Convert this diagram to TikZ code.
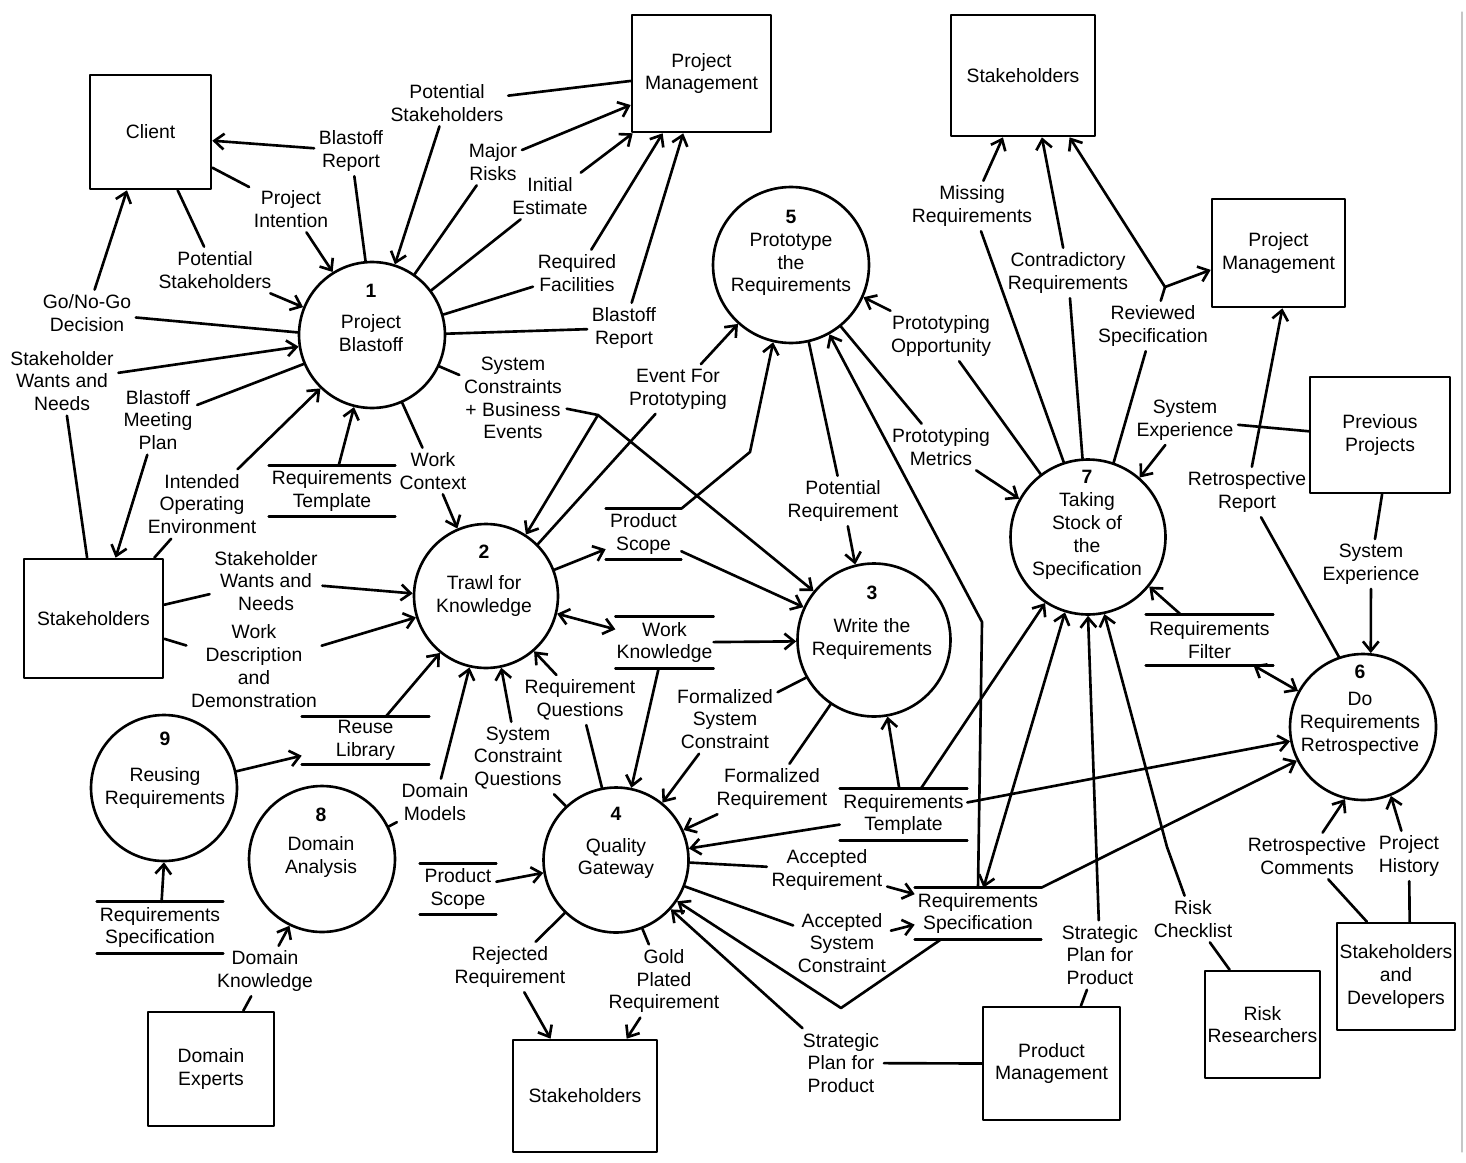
\documentclass[tikz,border=0pt]{standalone}
\usepackage{fontspec}
\setmainfont{Liberation Sans}
\usetikzlibrary{arrows.meta}
\newcommand{\lblfont}{\fontsize{11}{13}\selectfont}
\begin{document}
\begin{tikzpicture}[x=0.02cm, y=-0.02cm,
  every path/.style={line width=1.5pt, line cap=round, line join=round},
  arr/.style={-{Straight Barb[length=5.5pt,width=9pt]}},
  dbl/.style={{Straight Barb[length=5.5pt,width=9pt]}-{Straight Barb[length=5.5pt,width=9pt]}},
  proc/.style={draw, circle, inner sep=0pt},
  box/.style={draw, align=center, inner sep=0pt, font=\lblfont},
  store/.style={align=center, inner sep=0pt, font=\lblfont},
  lbl/.style={align=center, inner sep=2pt, font=\lblfont},
  ctext/.style={align=center, inner sep=0pt, font=\lblfont},
  sline/.style={draw, line width=1.5pt}]
\useasboundingbox (0,0) rectangle (1466,1162);
\draw[gray!45, line width=0.6pt] (1462,12) -- (1462,1152);

% processes
\node[proc, minimum size=2.92cm] (c1) at (372,335) {};
\node[proc, minimum size=2.88cm] (c2) at (486,596) {};
\node[proc, minimum size=3.06cm] (c3) at (874,640) {};
\node[proc, minimum size=2.9cm] (c4) at (616,860) {};
\node[proc, minimum size=3.12cm] (c5) at (791,265) {};
\node[proc, minimum size=2.92cm] (c6) at (1363,727) {};
\node[proc, minimum size=3.1cm] (c7) at (1088,537) {};
\node[proc, minimum size=2.92cm] (c8) at (322,859) {};
\node[proc, minimum size=2.92cm] (c9) at (164,788) {};

\node[ctext] (t1) at (371,318) {\textbf{1}\\[4.5pt]Project\\Blastoff};
\node[ctext] (t2) at (484,581) {\textbf{2}\\[4.5pt]Trawl for\\Knowledge};
\node[ctext] (t3) at (872,623) {\textbf{3}\\[5.7pt]Write the\\Requirements};
\node[ctext] (t4) at (616,843) {\textbf{4}\\[5pt]Quality\\Gateway};
\node[ctext] (t5) at (791,253) {\textbf{5}\\Prototype\\the\\Requirements};
\node[ctext] (t6) at (1360,710) {\textbf{6}\\[2.3pt]Do\\Requirements\\Retrospective};
\node[ctext] (t7) at (1087,525) {\textbf{7}\\Taking\\Stock of\\the\\Specification};
\node[ctext] (t8) at (321,843) {\textbf{8}\\[3.4pt]Domain\\Analysis};
\node[ctext] (t9) at (165,770) {\textbf{9}\\[7.4pt]Reusing\\Requirements};

% external entities
\node[box, minimum width=2.42cm, minimum height=2.28cm] (client) at (150.5,132) {Client};
\node[box, minimum width=2.78cm, minimum height=2.34cm] (pm1) at (701.5,73.5) {Project\\Management};
\node[box, minimum width=2.88cm, minimum height=2.42cm] (st1) at (1023,75.5) {Stakeholders};
\node[box, minimum width=2.66cm, minimum height=2.16cm] (pm2) at (1278.5,253) {Project\\Management};
\node[box, minimum width=2.8cm, minimum height=2.32cm] (prev) at (1380,435) {Previous\\Projects};
\node[box, minimum width=2.78cm, minimum height=2.38cm] (st2) at (93.5,618.5) {Stakeholders};
\node[box, minimum width=2.52cm, minimum height=2.28cm] (de) at (211,1069) {Domain\\Experts};
\node[box, minimum width=2.88cm, minimum height=2.24cm] (st3) at (585,1096) {Stakeholders};
\node[box, minimum width=2.74cm, minimum height=2.26cm] (pmg) at (1051.5,1063.5) {Product\\Management};
\node[box, minimum width=2.3cm, minimum height=2.14cm] (rr) at (1262.5,1024.5) {Risk\\Researchers};
\node[box, minimum width=2.36cm, minimum height=2.14cm] (sd) at (1396,976.5) {Stakeholders\\and\\Developers};

% data stores
\node[store, minimum width=2.48cm, minimum height=0.96cm] (rt1) at (332,491) {Requirements\\Template};
\node[store, minimum width=2.5cm, minimum height=0.9cm] (rl) at (365.5,740.5) {Reuse\\Library};
\node[store, minimum width=1.46cm, minimum height=0.96cm] (ps1) at (643.5,534) {Product\\Scope};
\node[store, minimum width=1.86cm, minimum height=0.98cm] (wk) at (664.5,642.5) {Work\\Knowledge};
\node[store, minimum width=1.48cm, minimum height=0.96cm] (ps2) at (458,889) {Product\\Scope};
\node[store, minimum width=2.48cm, minimum height=0.98cm] (rs1) at (160,927.5) {Requirements\\Specification};
\node[store, minimum width=2.5cm, minimum height=0.98cm] (rt2) at (903.5,814.5) {Requirements\\Template};
\node[store, minimum width=2.48cm, minimum height=0.98cm] (rs2) at (978,913.5) {Requirements\\Specification};
\node[store, minimum width=2.5cm, minimum height=0.96cm] (rfl) at (1209.5,640) {Requirements\\Filter};
\foreach \s in {rt1,rl,ps1,wk,ps2,rs1,rt2,rs2,rfl}
  \draw[sline] (\s.north west) -- (\s.north east) (\s.south west) -- (\s.south east);

% flow labels
\node[lbl] (Lbr1) at (351,151) {Blastoff\\Report};
\node[lbl] (Lpi) at (291,209) {Project\\Intention};
\node[lbl] (Lps1) at (215,270) {Potential\\Stakeholders};
\node[lbl] (Lgng) at (87,313) {Go/No-Go\\Decision};
\node[lbl] (Lswn1) at (62,381) {Stakeholder\\Wants and\\Needs};
\node[lbl] (Lbmp) at (158,420) {Blastoff\\Meeting\\Plan};
\node[lbl] (Lioe) at (202,504) {Intended\\Operating\\Environment};
\node[lbl] (Lwc) at (433,471) {Work\\Context};
\node[lbl] (Lsc) at (513,398) {System\\Constraints\\+ Business\\Events};
\node[lbl] (Lps2) at (447,103) {Potential\\Stakeholders};
\node[lbl] (Lmr) at (493,162) {Major\\Risks};
\node[lbl] (Lie) at (550,196) {Initial\\Estimate};
\node[lbl] (Lrf) at (577,273) {Required\\Facilities};
\node[lbl] (Lbr2) at (624,328) {Blastoff\\Report};
\node[lbl] (Lswn2) at (266,581) {Stakeholder\\Wants and\\Needs};
\node[lbl] (Lwdd) at (254,666) {Work\\Description\\and\\Demonstration};
\node[lbl] (Ldm) at (435,802) {Domain\\Models};
\node[lbl] (Lscq) at (518,758) {System\\Constraint\\Questions};
\node[lbl] (Lrq) at (580,700) {Requirement\\Questions};
\node[lbl] (Lefp) at (678,389) {Event For\\Prototyping};
\node[lbl] (Lpr) at (843,501) {Potential\\Requirement};
\node[lbl] (Lfsc) at (725,719) {Formalized\\System\\Constraint};
\node[lbl] (Lfr) at (772,789) {Formalized\\Requirement};
\node[lbl] (Lar) at (827,870) {Accepted\\Requirement};
\node[lbl] (Lasc) at (842,943) {Accepted\\System\\Constraint};
\node[lbl] (Lspp1) at (841,1063) {Strategic\\Plan for\\Product};
\node[lbl] (Lrr) at (510,967) {Rejected\\Requirement};
\node[lbl] (Lgpr) at (664,981) {Gold\\Plated\\Requirement};
\node[lbl] (Lpo) at (941,336) {Prototyping\\Opportunity};
\node[lbl] (Lpm) at (941,447) {Prototyping\\Metrics};
\node[lbl] (Lmreq) at (972,206) {Missing\\Requirements};
\node[lbl] (Lcr) at (1068,273) {Contradictory\\Requirements};
\node[lbl] (Lrs) at (1153,326) {Reviewed\\Specification};
\node[lbl] (Lse1) at (1185,420) {System\\Experience};
\node[lbl] (Lrrep) at (1247,492) {Retrospective\\Report};
\node[lbl] (Lse2) at (1371,564) {System\\Experience};
\node[lbl] (Lspp2) at (1100,955) {Strategic\\Plan for\\Product};
\node[lbl] (Lrc) at (1193,919) {Risk\\Checklist};
\node[lbl] (Lrcom) at (1307,856) {Retrospective\\Comments};
\node[lbl] (Lph) at (1409,856) {Project\\History};
\node[lbl] (Ldk) at (265,971) {Domain\\Knowledge};

% bend / fork points
\coordinate (fk1) at (598,415);
\coordinate (bn1) at (750,452);
\coordinate (vp) at (841,1008);
\coordinate (bn2) at (982,622);
\coordinate (fk2) at (1165,287);
\coordinate (bn3) at (1167,847);

% flows around process 1
\draw (c1.95) -- (Lbr1);
\draw[arr] (Lbr1) -- (client.-8);
\draw (client.-30) -- (Lpi);
\draw[arr] (Lpi) -- (c1.122);
\draw (client.-65) -- (Lps1);
\draw[arr] (Lps1) -- (c1.158);
\draw (c1.178) -- (Lgng);
\draw[arr] (Lgng) -- (client.-112);
\draw (st2.96) -- (Lswn1);
\draw[arr] (Lswn1) -- (c1.189);
\draw (c1.203) -- (Lbmp);
\draw[arr] (Lbmp) -- (st2.70);
\draw (st2.45) -- (Lioe);
\draw[arr] (Lioe) -- (c1.226);
\draw[arr] (rt1) -- (c1.256);
\draw (c1.294) -- (Lwc);
\draw[arr] (Lwc) -- (c2.113);
\draw (c1.335) -- (Lsc);
\draw (Lsc) -- (fk1);
\draw[arr] (fk1) -- (c2.57);
\draw[arr] (fk1) -- (c3.141);
\draw (pm1.186) -- (Lps2);
\draw[arr] (Lps2) -- (c1.72);
\draw (c1.55) -- (Lmr);
\draw[arr] (Lmr) -- (pm1.204);
\draw (c1.37) -- (Lie);
\draw[arr] (Lie) -- (pm1.221);
\draw (c1.16) -- (Lrf);
\draw[arr] (Lrf) -- (pm1.237);
\draw (c1.1) -- (Lbr2);
\draw[arr] (Lbr2) -- (pm1.253);

% process 2
\draw (st2.11) -- (Lswn2);
\draw[arr] (Lswn2) -- (c2.178);
\draw (st2.-16) -- (Lwdd);
\draw[arr] (Lwdd) -- (c2.197);
\draw[arr] (rl) -- (c2.231);
\draw[arr] (c9.13) -- (rl);
\draw (c8.26) -- (Ldm);
\draw[arr] (Ldm) -- (c2.257);
\draw (c4.133) -- (Lscq);
\draw[arr] (Lscq) -- (c2.282);
\draw (c4.101) -- (Lrq);
\draw[arr] (Lrq) -- (c2.311);
\draw[dbl] (c2.346) -- (wk);
\draw[arr] (wk) -- (c3.181);
\draw[arr] (wk) -- (c4.78);
\draw[arr] (c2.21) -- (ps1);
\draw[arr] (ps1) -- (c3.155);
\draw[arr] (ps1.north east) -- (bn1) -- (c5.257);
\draw (c2.45) -- (Lefp);
\draw[arr] (Lefp) -- (c5.228);

% process 3
\draw (c5.283) -- (Lpr);
\draw[arr] (Lpr) -- (c3.104);
\draw (c3.209) -- (Lfsc);
\draw[arr] (Lfsc) -- (c4.51);
\draw (c3.236) -- (Lfr);
\draw[arr] (Lfr) -- (c4.24);
\draw[arr] (rt2) -- (c3.280);
\draw[arr] (rt2) -- (c7.237);
\draw[arr] (rt2) -- (c4.9);
\draw[arr] (rt2) -- (c6.191);

% process 4
\draw (c4.358) -- (Lar);
\draw[arr] (Lar) -- (rs2.163);
\draw (c4.339) -- (Lasc);
\draw[arr] (Lasc) -- (rs2.190);
\draw[arr] (rs2.215) -- (vp) -- (c4.326);
\draw (pmg.west) -- (Lspp1);
\draw[arr] (Lspp1) -- (c4.318);
\draw[arr] (ps2) -- (c4.190);
\draw (c4.226) -- (Lrr);
\draw[arr] (Lrr) -- (st3.121);
\draw (c4.291) -- (Lgpr);
\draw[arr] (Lgpr) -- (st3.54);

% process 5
\draw (c7.127) -- (Lpo);
\draw[arr] (Lpo) -- (c5.336);
\draw (c5.309) -- (Lpm);
\draw[arr] (Lpm) -- (c7.151);
\draw[arr] (rs2.north) -- (bn2) -- (c5.299);
\draw[dbl] (c7.253) -- (rs2.78);

% process 7 and 6
\draw (c7.108) -- (Lmreq);
\draw[arr] (Lmreq) -- (st1.252);
\draw (c7.94) -- (Lcr);
\draw[arr] (Lcr) -- (st1.287);
\draw (c7.71) -- (Lrs);
\draw (Lrs) -- (fk2);
\draw[arr] (fk2) -- (st1.307);
\draw[arr] (fk2) -- (pm2.194);
\draw (prev.177) -- (Lse1);
\draw[arr] (Lse1) -- (c7.49);
\draw (c6.109) -- (Lrrep);
\draw[arr] (Lrrep) -- (pm2.274);
\draw (prev.272) -- (Lse2);
\draw[arr] (Lse2) -- (c6.84);
\draw[arr] (rfl) -- (c7.321);
\draw[dbl] (rfl) -- (c6.151);
\draw (pmg.63) -- (Lspp2);
\draw[arr] (Lspp2) -- (c7.270);
\draw (rr.121) -- (Lrc);
\draw[arr] (Lrc) -- (bn3) -- (c7.282);
\draw[arr] (rs2.north east) -- (c6.207);
\draw (sd.118) -- (Lrcom);
\draw[arr] (Lrcom) -- (c6.256);
\draw (sd.76) -- (Lph);
\draw[arr] (Lph) -- (c6.292);

% processes 8 and 9
\draw[arr] (rs1) -- (c9.270);
\draw (de.61) -- (Ldk);
\draw[arr] (Ldk) -- (c8.244);
\end{tikzpicture}
\end{document}
